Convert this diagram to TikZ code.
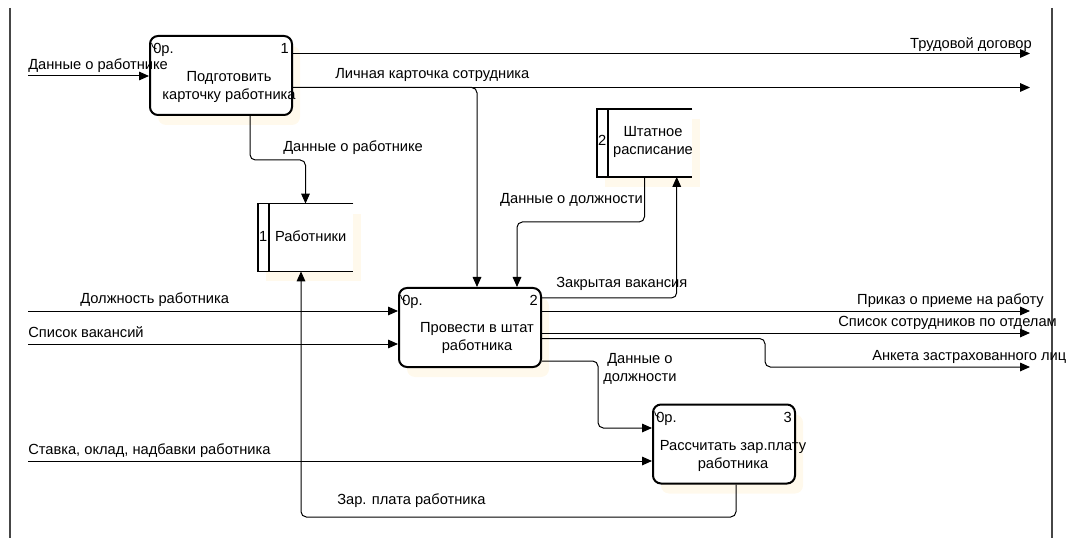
\documentclass[tikz,border=0pt]{standalone}
\usepackage{fontspec}
\setmainfont{Liberation Sans}
\usetikzlibrary{calc,arrows.meta,shadows}
\definecolor{shad}{RGB}{255,249,236}
\definecolor{framegray}{RGB}{70,70,70}
\begin{document}
\begin{tikzpicture}[x=0.75pt,y=-0.75pt,
  every node/.style={font=\fontsize{11}{13.5}\selectfont},
  proc/.style={draw, line width=1.5pt, rounded corners=6pt, fill=white,
    minimum width=106.5pt, minimum height=59.25pt, inner sep=0pt,
    drop shadow={shadow xshift=6pt, shadow yshift=-7.5pt, fill=shad, opacity=1}},
  store/.style={fill=white, minimum width=71.25pt, minimum height=50.5pt, inner sep=0pt,
    drop shadow={shadow xshift=6pt, shadow yshift=-7.5pt, fill=shad, opacity=1}},
  storeline/.style={line width=1.3pt},
  lbl/.style={inner sep=0pt, text height=7.5pt, text depth=2pt},
  ptext/.style={inner sep=0pt, align=center},
  conn/.style={line width=0.75pt, rounded corners=4pt},
  arr/.style={conn, -{Triangle[length=7.5pt,width=6.5pt]}},
  framel/.style={draw=framegray, line width=1pt}
]
\useasboundingbox (0,0) rectangle (1067,538);

% frame
\draw[framel] (10,8) -- (10,538);
\draw[framel] (1052,8) -- (1052,538);

% process boxes
\node[proc] (b1) at (221,75.5) {};
\node[proc] (b2) at (470,327.5) {};
\node[proc] (b3) at (724,444) {};

\foreach \b/\n in {b1/1, b2/2, b3/3}{
  \node[lbl, anchor=west] (\b id) at ($(\b.north west)+(4,15)$) {0р.};
  \node[lbl, anchor=east] (\b num) at ($(\b.north east)+(-4,15)$) {\n};
  \draw[line width=0.6pt] ($(\b.north west)+(2.5,8)$) arc[start angle=180, end angle=100, radius=6];
}
\node[ptext] (b1t) at ($(b1.center)+(8,11)$) {Подготовить\\карточку работника};
\node[ptext] (b2t) at ($(b2.center)+(7,10)$) {Провести в штат\\работника};
\node[ptext] (b3t) at ($(b3.center)+(9,11.5)$) {Рассчитать зар.плату\\работника};

% data stores
\node[store] (s1) at (305.5,237.5) {};
\node[store] (s2) at (644.5,143) {};
\foreach \s in {s1,s2}{
  \draw[storeline] (\s.north east) -- (\s.north west) -- (\s.south west) -- (\s.south east);
  \draw[storeline] ($(\s.north west)+(11,0)$) -- ($(\s.south west)+(11,0)$);
}
\node[lbl] (s1id) at ($(s1.west)+(5.5,0)$) {1};
\node[lbl, anchor=west] (s1t) at ($(s1.west)+(17,0)$) {Работники};
\node[lbl] (s2id) at ($(s2.west)+(5.5,-1)$) {2};
\node[ptext] (s2t) at ($(s2.center)+(8.5,-1)$) {Штатное\\расписание};

% free ends
\coordinate (i1) at (28,76);
\coordinate (i2) at (28,311);
\coordinate (i3) at (28,344);
\coordinate (i4) at (28,461);
\coordinate (o1) at (1030,53.5);
\coordinate (o2) at (1030,87.5);
\coordinate (o3) at (1030,311);
\coordinate (o4) at (1030,333);
\coordinate (o5) at (1030,367);
\coordinate (c1) at (250,160);
\coordinate (c2) at (517,222);
\coordinate (c3) at (765,367);
\coordinate (c4) at (598,428);
\coordinate (c5) at (301,517);

% connectors
\draw[arr] (i1) -- (i1 -| b1.west);
\draw[arr] (o1 -| b1.east) -- (o1);
\draw[arr] (o2 -| b1.east) -- (o2);
\draw[arr] (o2 -| b1.east) -| ($(b2.north west)+(79,0)$);
\draw[arr] (c1 |- b1.south) -- (c1) -| (s1.north);
\draw[arr] (s2.south) |- (c2) -- (c2 |- b2.north);
\draw[arr] ($(b2.north east)+(0,11)$) -| ($(s2.south west)+(80,0)$);
\draw[arr] (i2) -- (i2 -| b2.west);
\draw[arr] (i3) -- (i3 -| b2.west);
\draw[arr] (o3 -| b2.east) -- (o3);
\draw[arr] (o4 -| b2.east) -- (o4);
\draw[arr] ($(b2.north east)+(0,51.5)$) -| (c3) -- (o5);
\draw[arr] ($(b2.south east)+(0,-7)$) -| (c4) -- (c4 -| b3.west);
\draw[arr] (i4) -- (i4 -| b3.west);
\draw[arr] ($(b3.south west)+(84,0)$) |- (c5) -- (c5 |- s1.south);

% labels
\node[lbl, anchor=west] (l1) at (28,66) {Данные о работнике};
\node[lbl, anchor=east] (l2) at (1032,45) {Трудовой договор};
\node[lbl, anchor=west] (l3) at (335,75) {Личная карточка сотрудника};
\node[lbl, anchor=west] (l4) at (283,148) {Данные о работнике};
\node[lbl, anchor=east] (l5) at (643,200) {Данные о должности};
\node[lbl, anchor=west] (l6) at (80,300) {Должность работника};
\node[lbl, anchor=west] (l7) at (28,334) {Список вакансий};
\node[lbl, anchor=west] (l8) at (556,284) {Закрытая вакансия};
\node[lbl, anchor=east] (l9) at (1044,301) {Приказ о приеме на работу};
\node[lbl, anchor=east] (l10) at (1057,323) {Список сотрудников по отделам};
\node[lbl, anchor=west] (l11) at (872,357) {Анкета застрахованного лиц};
\node[ptext, anchor=north west] (l12) at (603,353) {Данные о\\должности};
\node[lbl, anchor=west] (l13) at (28,451) {Ставка, оклад, надбавки работника};
\node[lbl, anchor=west] (l14) at (337,501) {Зар. плата работника};
\end{tikzpicture}
\end{document}
